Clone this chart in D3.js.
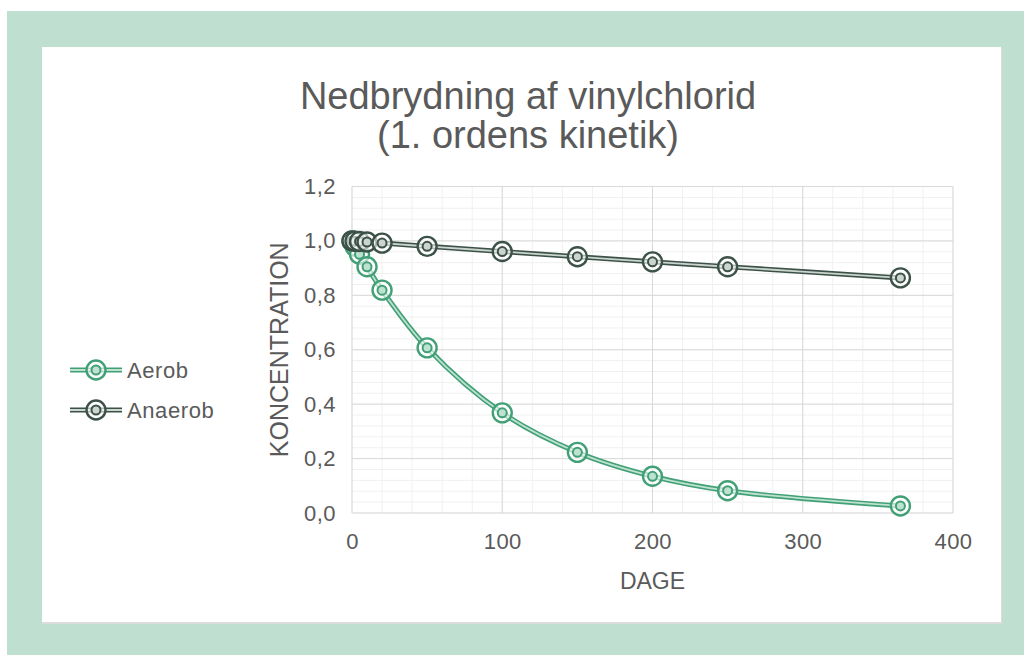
<!DOCTYPE html>
<html lang="en">
<head>
  <meta charset="UTF-8">
  <title>Nedbrydning af vinylchlorid</title>
  <script src="https://d3js.org/d3.v7.min.js"></script>
  <style>
    body { margin: 0; background: #fff; font-family: Arial, "Liberation Sans", sans-serif; }
  </style>
</head>
<body>
  <div id="chart"></div>
  <script>
    // data
    const days = [0, 2, 5, 10, 20, 50, 100, 150, 200, 250, 365];
    const aerob = [1.0, 0.98, 0.951, 0.905, 0.819, 0.607, 0.368, 0.223, 0.135, 0.082, 0.026];
    const anaerob = [1.0, 0.999, 0.998, 0.996, 0.992, 0.980, 0.961, 0.942, 0.923, 0.905, 0.864];
    const xTicks = [0, 100, 200, 300, 400];
    const yTicks = [0, 0.2, 0.4, 0.6, 0.8, 1.0, 1.2];
    const seriesNames = ["Aerob", "Anaerob"];

    const W = 1024, H = 655;
    const plot = { left: 352, right: 953, top: 186.5, bottom: 513 };
    const styles = {
      Aerob: { outer: "#42a076", inner: "#bde2d0" },
      Anaerob: { outer: "#3c5248", inner: "#cbd4cf" }
    };
    const textCol = "#5a5a5a";

    const svg = d3.select("#chart").append("svg").attr("width", W).attr("height", H);

    // background frame
    svg.append("rect").attr("x", 7).attr("y", 11).attr("width", W - 7).attr("height", H - 11).attr("fill", "#bfe0d1");
    svg.append("rect").attr("x", 42).attr("y", 48).attr("width", 960).attr("height", 576).attr("fill", "#dcdcdc");
    svg.append("rect").attr("x", 42).attr("y", 47).attr("width", 959).attr("height", 575).attr("fill", "#fff");

    const x = d3.scaleLinear().domain([0, 400]).range([plot.left, plot.right]);
    const y = d3.scaleLinear().domain([0, 1.2]).range([plot.bottom, plot.top]);

    // minor gridlines
    const grid = svg.append("g");
    grid.selectAll(".xmin").data(d3.range(0, 401, 20)).enter().append("line")
      .attr("x1", d => x(d)).attr("x2", d => x(d)).attr("y1", plot.top).attr("y2", plot.bottom)
      .attr("stroke", "#f0f0f0").attr("stroke-width", 1);
    grid.selectAll(".ymin").data(d3.range(0, 31).map(i => i * 0.04)).enter().append("line")
      .attr("x1", plot.left).attr("x2", plot.right).attr("y1", d => y(d)).attr("y2", d => y(d))
      .attr("stroke", "#f0f0f0").attr("stroke-width", 1);
    // major gridlines
    grid.selectAll(".xmaj").data(xTicks).enter().append("line")
      .attr("x1", d => x(d)).attr("x2", d => x(d)).attr("y1", plot.top).attr("y2", plot.bottom)
      .attr("stroke", "#d9d9d9").attr("stroke-width", 1);
    grid.selectAll(".ymaj").data(yTicks).enter().append("line")
      .attr("x1", plot.left).attr("x2", plot.right).attr("y1", d => y(d)).attr("y2", d => y(d))
      .attr("stroke", "#d9d9d9").attr("stroke-width", 1);

    // axes (labels only)
    const fmt = d => d3.format(".1f")(d).replace(".", ",");
    const xAxis = svg.append("g").attr("transform", `translate(0,${plot.bottom})`)
      .call(d3.axisBottom(x).tickValues(xTicks).tickSize(0).tickPadding(20));
    const yAxis = svg.append("g").attr("transform", `translate(${plot.left},0)`)
      .call(d3.axisLeft(y).tickValues(yTicks).tickFormat(fmt).tickSize(0).tickPadding(16));
    [xAxis, yAxis].forEach(a => {
      a.select(".domain").remove();
      a.selectAll("text").attr("fill", textCol).style("font-size", "22px")
        .style("letter-spacing", "0.5px").style("font-family", "Arial, 'Liberation Sans', sans-serif");
    });

    svg.append("text").attr("x", (plot.left + plot.right) / 2).attr("y", 589)
      .attr("text-anchor", "middle").attr("fill", textCol).style("font-size", "23px").text("DAGE");
    svg.append("text").attr("transform", `translate(288,${(plot.top + plot.bottom) / 2}) rotate(-90)`)
      .attr("text-anchor", "middle").attr("fill", textCol).style("font-size", "25px").text("KONCENTRATION");

    // title
    svg.append("text").attr("x", 528).attr("y", 109).attr("text-anchor", "middle").attr("fill", textCol)
      .style("font-size", "38px").text("Nedbrydning af vinylchlorid");
    svg.append("text").attr("x", 528).attr("y", 148).attr("text-anchor", "middle").attr("fill", textCol)
      .style("font-size", "38px").text("(1. ordens kinetik)");

    // series
    const line = d3.line().x(d => x(d[0])).y(d => y(d[1])).curve(d3.curveCatmullRom.alpha(0.5));
    const series = [
      { name: "Aerob", values: days.map((d, i) => [d, aerob[i]]) },
      { name: "Anaerob", values: days.map((d, i) => [d, anaerob[i]]) }
    ];

    function marker(g, cx, cy, st) {
      g.append("circle").attr("cx", cx).attr("cy", cy).attr("r", 9.5)
        .attr("fill", "#fff").attr("fill-opacity", 0.6).attr("stroke", st.outer).attr("stroke-width", 2.4);
      g.append("circle").attr("cx", cx).attr("cy", cy).attr("r", 4.5)
        .attr("fill", st.inner).attr("stroke", st.outer).attr("stroke-width", 2);
    }

    series.forEach(s => {
      const st = styles[s.name];
      const g = svg.append("g");
      g.append("path").attr("d", line(s.values)).attr("fill", "none").attr("stroke", st.outer).attr("stroke-width", 5);
      g.append("path").attr("d", line(s.values)).attr("fill", "none").attr("stroke", st.inner).attr("stroke-width", 1.8);
      s.values.forEach(v => marker(g, x(v[0]), y(v[1]), st));
    });

    // legend
    seriesNames.forEach((name, i) => {
      const st = styles[name];
      const ly = 370 + i * 40;
      const g = svg.append("g");
      g.append("line").attr("x1", 70).attr("x2", 122).attr("y1", ly).attr("y2", ly).attr("stroke", st.outer).attr("stroke-width", 5);
      g.append("line").attr("x1", 70).attr("x2", 122).attr("y1", ly).attr("y2", ly).attr("stroke", st.inner).attr("stroke-width", 1.8);
      marker(g, 96, ly, st);
      g.append("text").attr("x", 127).attr("y", ly + 8).attr("fill", textCol)
        .style("font-size", "22px").style("letter-spacing", "0.6px").text(name);
    });
  </script>
</body>
</html>
